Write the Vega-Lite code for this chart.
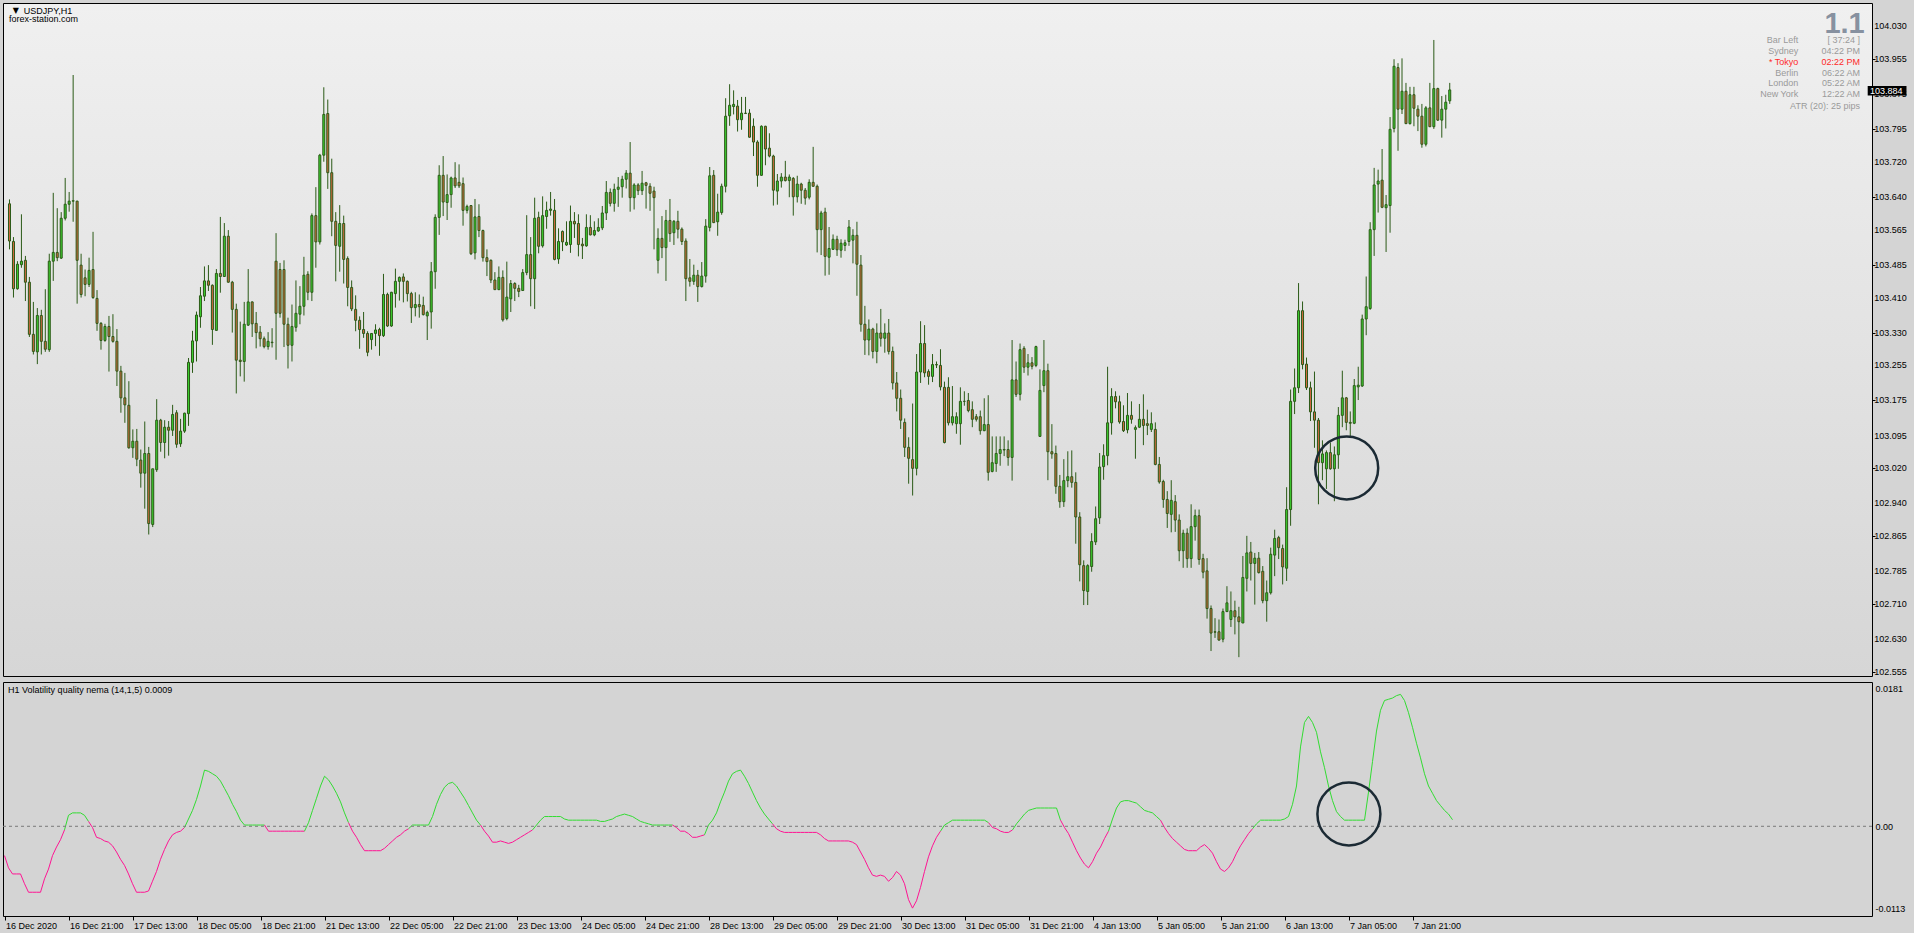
{
"$schema":"https://vega.github.io/schema/vega-lite/v6.json",
"background":"#d4d4d4",
"padding":{"left":2,"top":2,"right":6,"bottom":4},
"autosize":{"type":"pad"},
"spacing":3,
"resolve":{"scale":{"x":"independent","y":"independent"}},
"config":{"font":"Liberation Sans","axis":{"labelFont":"Liberation Sans","labelFontSize":9,"labelColor":"#000000","tickColor":"#000000","domain":false,"grid":false,"title":null,"labelOverlap":false,"labelBound":false,"labelFlush":false}},
"datasets":{"bars":[
{"i":0,"o":103.624,"h":103.634,"l":103.520,"c":103.539,"v":-0.00402},
{"i":1,"o":103.538,"h":103.548,"l":103.410,"c":103.430,"v":-0.0057},
{"i":2,"o":103.430,"h":103.493,"l":103.428,"c":103.486,"v":-0.00654},
{"i":3,"o":103.485,"h":103.600,"l":103.478,"c":103.493,"v":-0.00654},
{"i":4,"o":103.495,"h":103.505,"l":103.402,"c":103.445,"v":-0.00654},
{"i":5,"o":103.445,"h":103.457,"l":103.320,"c":103.326,"v":-0.00788},
{"i":6,"o":103.326,"h":103.400,"l":103.280,"c":103.287,"v":-0.00905},
{"i":7,"o":103.286,"h":103.386,"l":103.258,"c":103.369,"v":-0.00905},
{"i":8,"o":103.369,"h":103.382,"l":103.280,"c":103.310,"v":-0.00905},
{"i":9,"o":103.310,"h":103.429,"l":103.286,"c":103.292,"v":-0.00905},
{"i":10,"o":103.291,"h":103.510,"l":103.286,"c":103.493,"v":-0.00721},
{"i":11,"o":103.493,"h":103.649,"l":103.448,"c":103.513,"v":-0.00587},
{"i":12,"o":103.513,"h":103.614,"l":103.493,"c":103.501,"v":-0.00402},
{"i":13,"o":103.500,"h":103.605,"l":103.498,"c":103.591,"v":-0.00285},
{"i":14,"o":103.591,"h":103.683,"l":103.586,"c":103.623,"v":-0.00184},
{"i":15,"o":103.623,"h":103.651,"l":103.606,"c":103.630,"v":-0.0005},
{"i":16,"o":103.630,"h":103.918,"l":103.583,"c":103.631,"v":0.00151},
{"i":17,"o":103.630,"h":103.631,"l":103.396,"c":103.495,"v":0.00184},
{"i":18,"o":103.484,"h":103.510,"l":103.410,"c":103.417,"v":0.00184},
{"i":19,"o":103.455,"h":103.474,"l":103.413,"c":103.440,"v":0.00184},
{"i":20,"o":103.440,"h":103.501,"l":103.434,"c":103.472,"v":0.00151},
{"i":21,"o":103.474,"h":103.560,"l":103.407,"c":103.410,"v":0.00067},
{"i":22,"o":103.408,"h":103.427,"l":103.334,"c":103.351,"v":-0.00017},
{"i":23,"o":103.351,"h":103.354,"l":103.291,"c":103.312,"v":-0.00151},
{"i":24,"o":103.312,"h":103.350,"l":103.309,"c":103.344,"v":-0.00168},
{"i":25,"o":103.344,"h":103.368,"l":103.241,"c":103.321,"v":-0.00201},
{"i":26,"o":103.321,"h":103.372,"l":103.307,"c":103.310,"v":-0.00218},
{"i":27,"o":103.310,"h":103.338,"l":103.208,"c":103.242,"v":-0.00268},
{"i":28,"o":103.242,"h":103.254,"l":103.147,"c":103.181,"v":-0.00352},
{"i":29,"o":103.181,"h":103.238,"l":103.124,"c":103.165,"v":-0.00453},
{"i":30,"o":103.164,"h":103.219,"l":103.065,"c":103.067,"v":-0.00536},
{"i":31,"o":103.067,"h":103.109,"l":103.044,"c":103.082,"v":-0.00654},
{"i":32,"o":103.082,"h":103.110,"l":103.025,"c":103.041,"v":-0.00788},
{"i":33,"o":103.039,"h":103.063,"l":102.976,"c":103.009,"v":-0.00905},
{"i":34,"o":103.009,"h":103.127,"l":102.928,"c":103.054,"v":-0.00905},
{"i":35,"o":103.054,"h":103.069,"l":102.869,"c":102.894,"v":-0.00905},
{"i":36,"o":102.892,"h":103.019,"l":102.886,"c":103.019,"v":-0.00888},
{"i":37,"o":103.017,"h":103.178,"l":103.012,"c":103.130,"v":-0.00754},
{"i":38,"o":103.130,"h":103.133,"l":103.058,"c":103.079,"v":-0.0062},
{"i":39,"o":103.079,"h":103.130,"l":103.043,"c":103.114,"v":-0.00453},
{"i":40,"o":103.114,"h":103.128,"l":103.049,"c":103.107,"v":-0.00318},
{"i":41,"o":103.107,"h":103.165,"l":103.094,"c":103.143,"v":-0.00201},
{"i":42,"o":103.147,"h":103.153,"l":103.067,"c":103.075,"v":-0.00117},
{"i":43,"o":103.076,"h":103.133,"l":103.069,"c":103.105,"v":-0.00084},
{"i":44,"o":103.105,"h":103.147,"l":103.101,"c":103.146,"v":-0.00067},
{"i":45,"o":103.145,"h":103.272,"l":103.117,"c":103.262,"v":-0.00017},
{"i":46,"o":103.262,"h":103.334,"l":103.238,"c":103.311,"v":0.001},
{"i":47,"o":103.311,"h":103.378,"l":103.264,"c":103.370,"v":0.00218},
{"i":48,"o":103.366,"h":103.434,"l":103.341,"c":103.414,"v":0.00369},
{"i":49,"o":103.413,"h":103.481,"l":103.402,"c":103.448,"v":0.00553},
{"i":50,"o":103.448,"h":103.484,"l":103.425,"c":103.438,"v":0.00771},
{"i":51,"o":103.438,"h":103.440,"l":103.302,"c":103.337,"v":0.00754},
{"i":52,"o":103.335,"h":103.475,"l":103.334,"c":103.465,"v":0.00721},
{"i":53,"o":103.465,"h":103.594,"l":103.421,"c":103.458,"v":0.00687},
{"i":54,"o":103.458,"h":103.580,"l":103.457,"c":103.550,"v":0.0062},
{"i":55,"o":103.550,"h":103.564,"l":103.444,"c":103.445,"v":0.0052},
{"i":56,"o":103.445,"h":103.448,"l":103.330,"c":103.383,"v":0.00419},
{"i":57,"o":103.383,"h":103.396,"l":103.191,"c":103.267,"v":0.00302},
{"i":58,"o":103.267,"h":103.355,"l":103.230,"c":103.264,"v":0.00201},
{"i":59,"o":103.264,"h":103.400,"l":103.218,"c":103.349,"v":0.00084},
{"i":60,"o":103.347,"h":103.475,"l":103.345,"c":103.400,"v":0.00017},
{"i":61,"o":103.400,"h":103.401,"l":103.320,"c":103.350,"v":0.00017},
{"i":62,"o":103.351,"h":103.377,"l":103.294,"c":103.330,"v":0.00017},
{"i":63,"o":103.331,"h":103.345,"l":103.298,"c":103.316,"v":0.00017},
{"i":64,"o":103.316,"h":103.321,"l":103.294,"c":103.298,"v":0.00017},
{"i":65,"o":103.298,"h":103.331,"l":103.291,"c":103.310,"v":0.00017},
{"i":66,"o":103.308,"h":103.340,"l":103.296,"c":103.307,"v":-0.00067},
{"i":67,"o":103.493,"h":103.557,"l":103.268,"c":103.374,"v":-0.00067},
{"i":68,"o":103.474,"h":103.489,"l":103.364,"c":103.374,"v":-0.00067},
{"i":69,"o":103.474,"h":103.495,"l":103.297,"c":103.349,"v":-0.00067},
{"i":70,"o":103.349,"h":103.364,"l":103.248,"c":103.301,"v":-0.00067},
{"i":71,"o":103.301,"h":103.394,"l":103.264,"c":103.344,"v":-0.00067},
{"i":72,"o":103.342,"h":103.449,"l":103.332,"c":103.374,"v":-0.00067},
{"i":73,"o":103.372,"h":103.436,"l":103.349,"c":103.390,"v":-0.00067},
{"i":74,"o":103.390,"h":103.503,"l":103.369,"c":103.461,"v":-0.00067},
{"i":75,"o":103.463,"h":103.470,"l":103.404,"c":103.422,"v":-0.00067},
{"i":76,"o":103.422,"h":103.602,"l":103.402,"c":103.597,"v":0.0005},
{"i":77,"o":103.597,"h":103.662,"l":103.478,"c":103.537,"v":0.00218},
{"i":78,"o":103.537,"h":103.738,"l":103.531,"c":103.735,"v":0.00385},
{"i":79,"o":103.735,"h":103.890,"l":103.720,"c":103.828,"v":0.00553},
{"i":80,"o":103.830,"h":103.862,"l":103.658,"c":103.695,"v":0.00687},
{"i":81,"o":103.695,"h":103.727,"l":103.550,"c":103.584,"v":0.00637},
{"i":82,"o":103.584,"h":103.605,"l":103.447,"c":103.529,"v":0.00553},
{"i":83,"o":103.527,"h":103.621,"l":103.469,"c":103.579,"v":0.00453},
{"i":84,"o":103.579,"h":103.597,"l":103.442,"c":103.497,"v":0.00335},
{"i":85,"o":103.499,"h":103.504,"l":103.390,"c":103.433,"v":0.00184},
{"i":86,"o":103.433,"h":103.449,"l":103.379,"c":103.384,"v":0.0005},
{"i":87,"o":103.383,"h":103.415,"l":103.333,"c":103.358,"v":-0.00067},
{"i":88,"o":103.358,"h":103.367,"l":103.293,"c":103.337,"v":-0.00151},
{"i":89,"o":103.337,"h":103.377,"l":103.318,"c":103.328,"v":-0.00251},
{"i":90,"o":103.328,"h":103.333,"l":103.276,"c":103.285,"v":-0.00335},
{"i":91,"o":103.314,"h":103.329,"l":103.291,"c":103.328,"v":-0.00335},
{"i":92,"o":103.328,"h":103.349,"l":103.299,"c":103.336,"v":-0.00335},
{"i":93,"o":103.337,"h":103.341,"l":103.277,"c":103.323,"v":-0.00335},
{"i":94,"o":103.323,"h":103.464,"l":103.320,"c":103.417,"v":-0.00335},
{"i":95,"o":103.417,"h":103.421,"l":103.343,"c":103.345,"v":-0.00302},
{"i":96,"o":103.345,"h":103.423,"l":103.343,"c":103.422,"v":-0.00251},
{"i":97,"o":103.419,"h":103.476,"l":103.387,"c":103.447,"v":-0.00201},
{"i":98,"o":103.447,"h":103.458,"l":103.403,"c":103.456,"v":-0.00151},
{"i":99,"o":103.457,"h":103.465,"l":103.399,"c":103.447,"v":-0.00117},
{"i":100,"o":103.447,"h":103.449,"l":103.401,"c":103.419,"v":-0.00067},
{"i":101,"o":103.419,"h":103.423,"l":103.352,"c":103.387,"v":-0.00034},
{"i":102,"o":103.387,"h":103.422,"l":103.367,"c":103.394,"v":0.00017},
{"i":103,"o":103.394,"h":103.417,"l":103.364,"c":103.389,"v":0.00017},
{"i":104,"o":103.392,"h":103.412,"l":103.369,"c":103.371,"v":0.00017},
{"i":105,"o":103.368,"h":103.380,"l":103.313,"c":103.376,"v":0.00017},
{"i":106,"o":103.377,"h":103.491,"l":103.339,"c":103.469,"v":0.00017},
{"i":107,"o":103.469,"h":103.600,"l":103.430,"c":103.593,"v":0.00134},
{"i":108,"o":103.593,"h":103.712,"l":103.553,"c":103.689,"v":0.00302},
{"i":109,"o":103.689,"h":103.733,"l":103.596,"c":103.628,"v":0.00436},
{"i":110,"o":103.627,"h":103.691,"l":103.587,"c":103.645,"v":0.00536},
{"i":111,"o":103.645,"h":103.686,"l":103.615,"c":103.683,"v":0.00587},
{"i":112,"o":103.683,"h":103.719,"l":103.660,"c":103.665,"v":0.00603},
{"i":113,"o":103.673,"h":103.714,"l":103.660,"c":103.665,"v":0.00553},
{"i":114,"o":103.670,"h":103.684,"l":103.574,"c":103.609,"v":0.00469},
{"i":115,"o":103.609,"h":103.622,"l":103.602,"c":103.618,"v":0.00385},
{"i":116,"o":103.620,"h":103.621,"l":103.507,"c":103.510,"v":0.00285},
{"i":117,"o":103.512,"h":103.635,"l":103.497,"c":103.594,"v":0.00184},
{"i":118,"o":103.595,"h":103.623,"l":103.548,"c":103.563,"v":0.00084},
{"i":119,"o":103.563,"h":103.565,"l":103.492,"c":103.501,"v":0.00017},
{"i":120,"o":103.501,"h":103.520,"l":103.459,"c":103.492,"v":-0.00067},
{"i":121,"o":103.495,"h":103.497,"l":103.443,"c":103.450,"v":-0.00134},
{"i":122,"o":103.450,"h":103.468,"l":103.428,"c":103.428,"v":-0.00218},
{"i":123,"o":103.428,"h":103.481,"l":103.427,"c":103.456,"v":-0.00218},
{"i":124,"o":103.456,"h":103.472,"l":103.355,"c":103.359,"v":-0.00201},
{"i":125,"o":103.362,"h":103.492,"l":103.358,"c":103.411,"v":-0.00218},
{"i":126,"o":103.407,"h":103.450,"l":103.377,"c":103.442,"v":-0.00235},
{"i":127,"o":103.442,"h":103.445,"l":103.402,"c":103.431,"v":-0.00218},
{"i":128,"o":103.431,"h":103.439,"l":103.411,"c":103.424,"v":-0.00184},
{"i":129,"o":103.426,"h":103.475,"l":103.425,"c":103.467,"v":-0.00151},
{"i":130,"o":103.467,"h":103.598,"l":103.461,"c":103.508,"v":-0.00117},
{"i":131,"o":103.508,"h":103.548,"l":103.390,"c":103.453,"v":-0.00084},
{"i":132,"o":103.453,"h":103.638,"l":103.384,"c":103.591,"v":-0.0005},
{"i":133,"o":103.593,"h":103.606,"l":103.511,"c":103.527,"v":0.00017},
{"i":134,"o":103.528,"h":103.641,"l":103.524,"c":103.597,"v":0.00084},
{"i":135,"o":103.595,"h":103.629,"l":103.567,"c":103.609,"v":0.00134},
{"i":136,"o":103.609,"h":103.651,"l":103.597,"c":103.612,"v":0.00134},
{"i":137,"o":103.609,"h":103.635,"l":103.495,"c":103.497,"v":0.00134},
{"i":138,"o":103.498,"h":103.568,"l":103.487,"c":103.538,"v":0.00134},
{"i":139,"o":103.561,"h":103.563,"l":103.516,"c":103.537,"v":0.00134},
{"i":140,"o":103.530,"h":103.584,"l":103.528,"c":103.536,"v":0.001},
{"i":141,"o":103.531,"h":103.620,"l":103.512,"c":103.584,"v":0.00084},
{"i":142,"o":103.584,"h":103.605,"l":103.546,"c":103.578,"v":0.00084},
{"i":143,"o":103.579,"h":103.600,"l":103.504,"c":103.531,"v":0.00084},
{"i":144,"o":103.532,"h":103.546,"l":103.498,"c":103.528,"v":0.00084},
{"i":145,"o":103.528,"h":103.600,"l":103.526,"c":103.570,"v":0.00084},
{"i":146,"o":103.570,"h":103.598,"l":103.552,"c":103.553,"v":0.00084},
{"i":147,"o":103.553,"h":103.584,"l":103.550,"c":103.563,"v":0.00084},
{"i":148,"o":103.562,"h":103.591,"l":103.560,"c":103.570,"v":0.00084},
{"i":149,"o":103.569,"h":103.619,"l":103.564,"c":103.603,"v":0.00067},
{"i":150,"o":103.603,"h":103.676,"l":103.587,"c":103.650,"v":0.00067},
{"i":151,"o":103.650,"h":103.659,"l":103.618,"c":103.625,"v":0.00084},
{"i":152,"o":103.625,"h":103.670,"l":103.606,"c":103.657,"v":0.001},
{"i":153,"o":103.657,"h":103.685,"l":103.617,"c":103.662,"v":0.00134},
{"i":154,"o":103.663,"h":103.688,"l":103.638,"c":103.680,"v":0.00151},
{"i":155,"o":103.680,"h":103.701,"l":103.659,"c":103.694,"v":0.00168},
{"i":156,"o":103.694,"h":103.765,"l":103.606,"c":103.638,"v":0.00151},
{"i":157,"o":103.638,"h":103.671,"l":103.611,"c":103.667,"v":0.00134},
{"i":158,"o":103.667,"h":103.671,"l":103.644,"c":103.654,"v":0.001},
{"i":159,"o":103.654,"h":103.699,"l":103.644,"c":103.671,"v":0.00067},
{"i":160,"o":103.672,"h":103.674,"l":103.613,"c":103.666,"v":0.0005},
{"i":161,"o":103.664,"h":103.671,"l":103.608,"c":103.648,"v":0.00034},
{"i":162,"o":103.653,"h":103.663,"l":103.520,"c":103.638,"v":0.00017},
{"i":163,"o":103.495,"h":103.568,"l":103.465,"c":103.545,"v":0.00017},
{"i":164,"o":103.545,"h":103.596,"l":103.500,"c":103.524,"v":0.00017},
{"i":165,"o":103.524,"h":103.610,"l":103.448,"c":103.586,"v":0.00017},
{"i":166,"o":103.586,"h":103.635,"l":103.537,"c":103.556,"v":0.00017},
{"i":167,"o":103.558,"h":103.587,"l":103.530,"c":103.584,"v":0.00017},
{"i":168,"o":103.584,"h":103.608,"l":103.545,"c":103.566,"v":-0.00017},
{"i":169,"o":103.566,"h":103.570,"l":103.530,"c":103.538,"v":-0.00067},
{"i":170,"o":103.539,"h":103.545,"l":103.402,"c":103.453,"v":-0.00067},
{"i":171,"o":103.455,"h":103.498,"l":103.435,"c":103.447,"v":-0.001},
{"i":172,"o":103.447,"h":103.485,"l":103.439,"c":103.461,"v":-0.00151},
{"i":173,"o":103.461,"h":103.473,"l":103.400,"c":103.435,"v":-0.00151},
{"i":174,"o":103.435,"h":103.491,"l":103.433,"c":103.459,"v":-0.00134},
{"i":175,"o":103.459,"h":103.589,"l":103.444,"c":103.573,"v":-0.00117},
{"i":176,"o":103.570,"h":103.708,"l":103.561,"c":103.688,"v":0.00017},
{"i":177,"o":103.689,"h":103.701,"l":103.580,"c":103.581,"v":0.00084},
{"i":178,"o":103.583,"h":103.647,"l":103.551,"c":103.605,"v":0.00184},
{"i":179,"o":103.604,"h":103.670,"l":103.599,"c":103.664,"v":0.00335},
{"i":180,"o":103.664,"h":103.865,"l":103.650,"c":103.824,"v":0.00469},
{"i":181,"o":103.825,"h":103.897,"l":103.802,"c":103.849,"v":0.0062},
{"i":182,"o":103.846,"h":103.883,"l":103.828,"c":103.851,"v":0.00721},
{"i":183,"o":103.847,"h":103.861,"l":103.789,"c":103.816,"v":0.00754},
{"i":184,"o":103.816,"h":103.868,"l":103.793,"c":103.831,"v":0.00771},
{"i":185,"o":103.831,"h":103.868,"l":103.829,"c":103.830,"v":0.00687},
{"i":186,"o":103.831,"h":103.840,"l":103.775,"c":103.776,"v":0.00587},
{"i":187,"o":103.801,"h":103.819,"l":103.733,"c":103.765,"v":0.00469},
{"i":188,"o":103.765,"h":103.769,"l":103.663,"c":103.689,"v":0.00352},
{"i":189,"o":103.689,"h":103.803,"l":103.688,"c":103.801,"v":0.00251},
{"i":190,"o":103.801,"h":103.802,"l":103.712,"c":103.749,"v":0.00168},
{"i":191,"o":103.751,"h":103.785,"l":103.730,"c":103.733,"v":0.001},
{"i":192,"o":103.733,"h":103.736,"l":103.620,"c":103.655,"v":0.00034},
{"i":193,"o":103.653,"h":103.692,"l":103.622,"c":103.676,"v":-0.00034},
{"i":194,"o":103.676,"h":103.694,"l":103.661,"c":103.685,"v":-0.00067},
{"i":195,"o":103.685,"h":103.722,"l":103.675,"c":103.677,"v":-0.00084},
{"i":196,"o":103.677,"h":103.691,"l":103.639,"c":103.685,"v":-0.00084},
{"i":197,"o":103.682,"h":103.685,"l":103.597,"c":103.640,"v":-0.00084},
{"i":198,"o":103.640,"h":103.688,"l":103.627,"c":103.669,"v":-0.00084},
{"i":199,"o":103.669,"h":103.672,"l":103.624,"c":103.655,"v":-0.00084},
{"i":200,"o":103.655,"h":103.660,"l":103.622,"c":103.637,"v":-0.00084},
{"i":201,"o":103.639,"h":103.680,"l":103.634,"c":103.673,"v":-0.00084},
{"i":202,"o":103.673,"h":103.754,"l":103.663,"c":103.664,"v":-0.00084},
{"i":203,"o":103.664,"h":103.668,"l":103.513,"c":103.565,"v":-0.00084},
{"i":204,"o":103.565,"h":103.608,"l":103.507,"c":103.603,"v":-0.00117},
{"i":205,"o":103.605,"h":103.615,"l":103.460,"c":103.504,"v":-0.00168},
{"i":206,"o":103.502,"h":103.571,"l":103.462,"c":103.522,"v":-0.00201},
{"i":207,"o":103.520,"h":103.554,"l":103.519,"c":103.543,"v":-0.00201},
{"i":208,"o":103.543,"h":103.551,"l":103.505,"c":103.519,"v":-0.00201},
{"i":209,"o":103.518,"h":103.543,"l":103.501,"c":103.534,"v":-0.00201},
{"i":210,"o":103.529,"h":103.542,"l":103.516,"c":103.535,"v":-0.00201},
{"i":211,"o":103.538,"h":103.587,"l":103.528,"c":103.571,"v":-0.00201},
{"i":212,"o":103.541,"h":103.566,"l":103.488,"c":103.552,"v":-0.00218},
{"i":213,"o":103.552,"h":103.583,"l":103.414,"c":103.486,"v":-0.00251},
{"i":214,"o":103.484,"h":103.507,"l":103.332,"c":103.349,"v":-0.00352},
{"i":215,"o":103.349,"h":103.391,"l":103.279,"c":103.313,"v":-0.00453},
{"i":216,"o":103.313,"h":103.360,"l":103.278,"c":103.338,"v":-0.0057},
{"i":217,"o":103.338,"h":103.341,"l":103.271,"c":103.287,"v":-0.0067},
{"i":218,"o":103.287,"h":103.351,"l":103.260,"c":103.329,"v":-0.00687},
{"i":219,"o":103.329,"h":103.384,"l":103.298,"c":103.317,"v":-0.0067},
{"i":220,"o":103.317,"h":103.351,"l":103.284,"c":103.329,"v":-0.00687},
{"i":221,"o":103.329,"h":103.361,"l":103.280,"c":103.287,"v":-0.00754},
{"i":222,"o":103.287,"h":103.298,"l":103.200,"c":103.215,"v":-0.00704},
{"i":223,"o":103.215,"h":103.240,"l":103.150,"c":103.180,"v":-0.0062},
{"i":224,"o":103.180,"h":103.200,"l":103.110,"c":103.130,"v":-0.0067},
{"i":225,"o":103.125,"h":103.134,"l":103.046,"c":103.068,"v":-0.00788},
{"i":226,"o":103.068,"h":103.091,"l":102.985,"c":103.043,"v":-0.01006},
{"i":227,"o":103.040,"h":103.168,"l":102.958,"c":103.020,"v":-0.01123},
{"i":228,"o":103.020,"h":103.281,"l":103.004,"c":103.240,"v":-0.01022},
{"i":229,"o":103.240,"h":103.356,"l":103.215,"c":103.305,"v":-0.00838},
{"i":230,"o":103.305,"h":103.347,"l":103.228,"c":103.238,"v":-0.0062},
{"i":231,"o":103.241,"h":103.246,"l":103.211,"c":103.230,"v":-0.00419},
{"i":232,"o":103.230,"h":103.281,"l":103.217,"c":103.257,"v":-0.00268},
{"i":233,"o":103.257,"h":103.264,"l":103.249,"c":103.256,"v":-0.00151},
{"i":234,"o":103.255,"h":103.292,"l":103.198,"c":103.206,"v":-0.00067},
{"i":235,"o":103.205,"h":103.218,"l":103.077,"c":103.079,"v":0.00017},
{"i":236,"o":103.205,"h":103.228,"l":103.118,"c":103.124,"v":0.0005},
{"i":237,"o":103.124,"h":103.208,"l":103.118,"c":103.138,"v":0.00084},
{"i":238,"o":103.122,"h":103.148,"l":103.099,"c":103.138,"v":0.00084},
{"i":239,"o":103.122,"h":103.205,"l":103.074,"c":103.173,"v":0.00084},
{"i":240,"o":103.173,"h":103.196,"l":103.163,"c":103.173,"v":0.00084},
{"i":241,"o":103.175,"h":103.192,"l":103.148,"c":103.152,"v":0.00084},
{"i":242,"o":103.154,"h":103.173,"l":103.114,"c":103.132,"v":0.00084},
{"i":243,"o":103.138,"h":103.144,"l":103.127,"c":103.132,"v":0.00084},
{"i":244,"o":103.138,"h":103.152,"l":103.097,"c":103.106,"v":0.00084},
{"i":245,"o":103.106,"h":103.180,"l":103.105,"c":103.120,"v":0.00084},
{"i":246,"o":103.120,"h":103.187,"l":102.992,"c":103.011,"v":0.0005},
{"i":247,"o":103.013,"h":103.093,"l":103.011,"c":103.033,"v":-0.00017},
{"i":248,"o":103.031,"h":103.093,"l":103.012,"c":103.054,"v":-0.00034},
{"i":249,"o":103.054,"h":103.093,"l":103.026,"c":103.063,"v":-0.00067},
{"i":250,"o":103.063,"h":103.093,"l":103.048,"c":103.062,"v":-0.00084},
{"i":251,"o":103.063,"h":103.084,"l":103.026,"c":103.045,"v":-0.00084},
{"i":252,"o":103.045,"h":103.313,"l":102.992,"c":103.222,"v":-0.0005},
{"i":253,"o":103.222,"h":103.264,"l":103.183,"c":103.189,"v":0.00034},
{"i":254,"o":103.189,"h":103.305,"l":103.175,"c":103.291,"v":0.001},
{"i":255,"o":103.294,"h":103.299,"l":103.238,"c":103.251,"v":0.00168},
{"i":256,"o":103.251,"h":103.281,"l":103.232,"c":103.261,"v":0.00218},
{"i":257,"o":103.261,"h":103.274,"l":103.246,"c":103.253,"v":0.00235},
{"i":258,"o":103.255,"h":103.300,"l":103.251,"c":103.298,"v":0.00251},
{"i":259,"o":103.093,"h":103.246,"l":103.092,"c":103.198,"v":0.00251},
{"i":260,"o":103.209,"h":103.313,"l":103.194,"c":103.243,"v":0.00251},
{"i":261,"o":103.243,"h":103.259,"l":102.993,"c":103.058,"v":0.00251},
{"i":262,"o":103.058,"h":103.121,"l":103.042,"c":103.053,"v":0.00251},
{"i":263,"o":103.054,"h":103.072,"l":102.962,"c":102.979,"v":0.00251},
{"i":264,"o":102.979,"h":103.005,"l":102.930,"c":102.944,"v":0.00084},
{"i":265,"o":102.944,"h":103.041,"l":102.932,"c":102.992,"v":-0.00017},
{"i":266,"o":102.992,"h":103.059,"l":102.977,"c":103.001,"v":-0.001},
{"i":267,"o":103.001,"h":103.061,"l":102.976,"c":102.988,"v":-0.00218},
{"i":268,"o":102.988,"h":103.011,"l":102.848,"c":102.909,"v":-0.00335},
{"i":269,"o":102.909,"h":102.920,"l":102.762,"c":102.800,"v":-0.00436},
{"i":270,"o":102.798,"h":102.810,"l":102.708,"c":102.741,"v":-0.0052},
{"i":271,"o":102.739,"h":102.801,"l":102.708,"c":102.798,"v":-0.0057},
{"i":272,"o":102.796,"h":102.872,"l":102.784,"c":102.853,"v":-0.00486},
{"i":273,"o":102.852,"h":102.933,"l":102.845,"c":102.905,"v":-0.00369},
{"i":274,"o":102.907,"h":103.055,"l":102.893,"c":103.023,"v":-0.00285},
{"i":275,"o":103.024,"h":103.075,"l":102.994,"c":103.049,"v":-0.00168},
{"i":276,"o":103.049,"h":103.252,"l":103.027,"c":103.124,"v":-0.00067},
{"i":277,"o":103.124,"h":103.203,"l":103.097,"c":103.184,"v":0.001},
{"i":278,"o":103.184,"h":103.196,"l":103.157,"c":103.172,"v":0.00251},
{"i":279,"o":103.172,"h":103.186,"l":103.122,"c":103.126,"v":0.00335},
{"i":280,"o":103.127,"h":103.164,"l":103.103,"c":103.106,"v":0.00352},
{"i":281,"o":103.108,"h":103.192,"l":103.100,"c":103.141,"v":0.00352},
{"i":282,"o":103.141,"h":103.173,"l":103.122,"c":103.132,"v":0.00335},
{"i":283,"o":103.109,"h":103.118,"l":103.042,"c":103.113,"v":0.00318},
{"i":284,"o":103.114,"h":103.167,"l":103.112,"c":103.132,"v":0.00268},
{"i":285,"o":103.132,"h":103.189,"l":103.073,"c":103.118,"v":0.00218},
{"i":286,"o":103.122,"h":103.154,"l":103.096,"c":103.118,"v":0.00201},
{"i":287,"o":103.109,"h":103.148,"l":103.103,"c":103.122,"v":0.00184},
{"i":288,"o":103.109,"h":103.125,"l":103.027,"c":103.029,"v":0.00134},
{"i":289,"o":103.029,"h":103.046,"l":102.985,"c":102.989,"v":0.00084},
{"i":290,"o":102.990,"h":102.994,"l":102.930,"c":102.949,"v":-0.00017},
{"i":291,"o":102.949,"h":102.968,"l":102.884,"c":102.917,"v":-0.001},
{"i":292,"o":102.915,"h":102.993,"l":102.874,"c":102.947,"v":-0.00168},
{"i":293,"o":102.944,"h":102.959,"l":102.875,"c":102.902,"v":-0.00218},
{"i":294,"o":102.902,"h":102.915,"l":102.808,"c":102.832,"v":-0.00268},
{"i":295,"o":102.832,"h":102.880,"l":102.793,"c":102.872,"v":-0.00318},
{"i":296,"o":102.872,"h":102.883,"l":102.793,"c":102.814,"v":-0.00335},
{"i":297,"o":102.814,"h":102.938,"l":102.793,"c":102.887,"v":-0.00335},
{"i":298,"o":102.887,"h":102.926,"l":102.855,"c":102.912,"v":-0.00335},
{"i":299,"o":102.912,"h":102.926,"l":102.800,"c":102.812,"v":-0.00285},
{"i":300,"o":102.814,"h":102.825,"l":102.769,"c":102.783,"v":-0.00251},
{"i":301,"o":102.786,"h":102.815,"l":102.677,"c":102.700,"v":-0.00302},
{"i":302,"o":102.700,"h":102.707,"l":102.603,"c":102.644,"v":-0.00369},
{"i":303,"o":102.647,"h":102.678,"l":102.633,"c":102.646,"v":-0.00486},
{"i":304,"o":102.647,"h":102.675,"l":102.627,"c":102.628,"v":-0.00587},
{"i":305,"o":102.630,"h":102.700,"l":102.623,"c":102.693,"v":-0.0062},
{"i":306,"o":102.693,"h":102.751,"l":102.692,"c":102.713,"v":-0.0057},
{"i":307,"o":102.675,"h":102.739,"l":102.658,"c":102.695,"v":-0.00486},
{"i":308,"o":102.695,"h":102.718,"l":102.641,"c":102.681,"v":-0.00369},
{"i":309,"o":102.681,"h":102.704,"l":102.589,"c":102.670,"v":-0.00268},
{"i":310,"o":102.667,"h":102.820,"l":102.667,"c":102.771,"v":-0.00184},
{"i":311,"o":102.769,"h":102.866,"l":102.739,"c":102.827,"v":-0.001},
{"i":312,"o":102.829,"h":102.852,"l":102.764,"c":102.803,"v":-0.00034},
{"i":313,"o":102.803,"h":102.827,"l":102.709,"c":102.815,"v":0.00034},
{"i":314,"o":102.815,"h":102.829,"l":102.780,"c":102.782,"v":0.00084},
{"i":315,"o":102.785,"h":102.797,"l":102.712,"c":102.718,"v":0.00084},
{"i":316,"o":102.718,"h":102.764,"l":102.670,"c":102.736,"v":0.00084},
{"i":317,"o":102.736,"h":102.839,"l":102.732,"c":102.824,"v":0.00084},
{"i":318,"o":102.822,"h":102.880,"l":102.774,"c":102.860,"v":0.00084},
{"i":319,"o":102.862,"h":102.866,"l":102.813,"c":102.839,"v":0.00084},
{"i":320,"o":102.837,"h":102.846,"l":102.755,"c":102.795,"v":0.001},
{"i":321,"o":102.792,"h":102.977,"l":102.763,"c":102.926,"v":0.00134},
{"i":322,"o":102.926,"h":103.200,"l":102.889,"c":103.173,"v":0.00302},
{"i":323,"o":103.173,"h":103.248,"l":103.144,"c":103.204,"v":0.00553},
{"i":324,"o":103.204,"h":103.443,"l":103.192,"c":103.380,"v":0.01089},
{"i":325,"o":103.380,"h":103.401,"l":103.246,"c":103.257,"v":0.01425},
{"i":326,"o":103.258,"h":103.273,"l":103.199,"c":103.204,"v":0.01508},
{"i":327,"o":103.204,"h":103.218,"l":103.128,"c":103.149,"v":0.01425},
{"i":328,"o":103.149,"h":103.241,"l":103.067,"c":103.130,"v":0.0129},
{"i":329,"o":103.130,"h":103.135,"l":102.938,"c":103.033,"v":0.01022},
{"i":330,"o":103.033,"h":103.084,"l":102.993,"c":103.053,"v":0.00804},
{"i":331,"o":103.019,"h":103.061,"l":102.973,"c":103.056,"v":0.00553},
{"i":332,"o":103.056,"h":103.079,"l":103.017,"c":103.019,"v":0.00352},
{"i":333,"o":103.019,"h":103.070,"l":102.945,"c":103.051,"v":0.00201},
{"i":334,"o":103.051,"h":103.160,"l":103.019,"c":103.141,"v":0.00134},
{"i":335,"o":103.141,"h":103.243,"l":103.114,"c":103.181,"v":0.00084},
{"i":336,"o":103.181,"h":103.183,"l":103.107,"c":103.125,"v":0.00084},
{"i":337,"o":103.125,"h":103.150,"l":103.093,"c":103.123,"v":0.00084},
{"i":338,"o":103.123,"h":103.224,"l":103.121,"c":103.209,"v":0.00084},
{"i":339,"o":103.206,"h":103.252,"l":103.176,"c":103.210,"v":0.00084},
{"i":340,"o":103.208,"h":103.371,"l":103.206,"c":103.361,"v":0.00084},
{"i":341,"o":103.361,"h":103.458,"l":103.324,"c":103.389,"v":0.00469},
{"i":342,"o":103.385,"h":103.582,"l":103.382,"c":103.565,"v":0.00888},
{"i":343,"o":103.565,"h":103.706,"l":103.505,"c":103.667,"v":0.01307},
{"i":344,"o":103.669,"h":103.702,"l":103.604,"c":103.676,"v":0.01592},
{"i":345,"o":103.678,"h":103.749,"l":103.614,"c":103.616,"v":0.01726},
{"i":346,"o":103.615,"h":103.644,"l":103.514,"c":103.622,"v":0.01743},
{"i":347,"o":103.620,"h":103.822,"l":103.558,"c":103.794,"v":0.0176},
{"i":348,"o":103.796,"h":103.954,"l":103.787,"c":103.938,"v":0.01793},
{"i":349,"o":103.935,"h":103.945,"l":103.745,"c":103.840,"v":0.0181},
{"i":350,"o":103.840,"h":103.956,"l":103.829,"c":103.881,"v":0.01726},
{"i":351,"o":103.881,"h":103.900,"l":103.806,"c":103.807,"v":0.01559},
{"i":352,"o":103.807,"h":103.891,"l":103.805,"c":103.873,"v":0.01358},
{"i":353,"o":103.873,"h":103.891,"l":103.801,"c":103.842,"v":0.0114},
{"i":354,"o":103.840,"h":103.849,"l":103.790,"c":103.824,"v":0.00939},
{"i":355,"o":103.824,"h":103.852,"l":103.752,"c":103.760,"v":0.00721},
{"i":356,"o":103.760,"h":103.847,"l":103.755,"c":103.843,"v":0.00553},
{"i":357,"o":103.843,"h":103.900,"l":103.799,"c":103.800,"v":0.00453},
{"i":358,"o":103.800,"h":103.998,"l":103.795,"c":103.887,"v":0.00352},
{"i":359,"o":103.887,"h":103.889,"l":103.813,"c":103.815,"v":0.00285},
{"i":360,"o":103.815,"h":103.870,"l":103.775,"c":103.840,"v":0.00218},
{"i":361,"o":103.840,"h":103.873,"l":103.796,"c":103.856,"v":0.00168},
{"i":362,"o":103.859,"h":103.900,"l":103.852,"c":103.884,"v":0.0009}
],
"pricelabels":[{"p":104.03},{"p":103.955},{"p":103.875},{"p":103.795},{"p":103.72},{"p":103.64},{"p":103.565},{"p":103.485},{"p":103.41},{"p":103.33},{"p":103.255},{"p":103.175},{"p":103.095},{"p":103.02},{"p":102.94},{"p":102.865},{"p":102.785},{"p":102.71},{"p":102.63},{"p":102.555}]},
"vconcat":[
{
"width":1869,"height":673,
"view":{"stroke":"#000000","strokeWidth":1,"fill":{"gradient":"linear","x1":0,"y1":0,"x2":0,"y2":1,"stops":[{"offset":0,"color":"#f0f0f0"},{"offset":1,"color":"#d6d6d6"}]}},
"layer":[
{"data":{"name":"bars"},"mark":{"type":"rule","color":"#2b5a17","strokeWidth":1},
 "encoding":{"x":{"field":"i","type":"quantitative","scale":{"domain":[-0.375,466.875],"nice":false,"zero":false},"axis":null},
 "y":{"field":"l","type":"quantitative","scale":{"domain":[102.546,104.0824],"nice":false,"zero":false},
   "axis":{"orient":"right","values":[104.03,103.955,103.875,103.795,103.72,103.64,103.565,103.485,103.41,103.33,103.255,103.175,103.095,103.02,102.94,102.865,102.785,102.71,102.63,102.555],"labels":false,"tickSize":3}},
 "y2":{"field":"h"}}},
{"data":{"name":"bars"},"mark":{"type":"bar","size":2,"stroke":"#2b5a17","strokeWidth":1},
 "encoding":{"x":{"field":"i","type":"quantitative"},"y":{"field":"o","type":"quantitative"},"y2":{"field":"c"},
 "color":{"condition":{"test":"datum.c >= datum.o","value":"#3ccf2f"},"value":"#d0693f"}}},
{"data":{"name":"pricelabels"},"mark":{"type":"text","fontSize":9,"align":"left","baseline":"middle","color":"#000000"},
 "encoding":{"x":{"datum":468.7},"y":{"field":"p","type":"quantitative"},"text":{"field":"p","type":"quantitative","format":".3f"}}},
{"data":{"values":[{}]},"mark":{"type":"point","shape":"circle","size":3969,"filled":false,"stroke":"#1b2a34","strokeWidth":2.5,"opacity":1},
 "encoding":{"x":{"datum":336.1},"y":{"datum":103.021}}},
{"data":{"values":[{}]},"mark":{"type":"text","text":"▼","font":"DejaVu Sans","fontSize":8,"align":"center","baseline":"middle","color":"#000000"},
 "encoding":{"x":{"datum":1.6},"y":{"datum":104.064}}},
{"data":{"values":[{}]},"mark":{"type":"text","text":"USDJPY,H1","fontSize":9,"align":"left","baseline":"middle","color":"#000000"},
 "encoding":{"x":{"datum":3.6},"y":{"datum":104.064}}},
{"data":{"values":[{}]},"mark":{"type":"text","text":"forex-station.com","fontSize":9,"align":"left","baseline":"middle","color":"#000000"},
 "encoding":{"x":{"datum":-0.125},"y":{"datum":104.045}}},
{"data":{"values":[{}]},"mark":{"type":"text","text":"1.1","fontSize":29,"fontWeight":"bold","align":"right","baseline":"alphabetic","color":"#8791a0"},
 "encoding":{"x":{"datum":466.3},"y":{"datum":104.0145}}},
{"data":{"values":[{}]},"mark":{"type":"text","text":"Bar Left","fontSize":9,"align":"right","baseline":"middle","color":"#9a9a9a"},
 "encoding":{"x":{"datum":449.6},"y":{"datum":103.998}}},
{"data":{"values":[{}]},"mark":{"type":"text","text":"Sydney","fontSize":9,"align":"right","baseline":"middle","color":"#9a9a9a"},
 "encoding":{"x":{"datum":449.6},"y":{"datum":103.973}}},
{"data":{"values":[{}]},"mark":{"type":"text","text":"* Tokyo","fontSize":9,"align":"right","baseline":"middle","color":"#ff2a2a"},
 "encoding":{"x":{"datum":449.6},"y":{"datum":103.948}}},
{"data":{"values":[{}]},"mark":{"type":"text","text":"Berlin","fontSize":9,"align":"right","baseline":"middle","color":"#9a9a9a"},
 "encoding":{"x":{"datum":449.6},"y":{"datum":103.923}}},
{"data":{"values":[{}]},"mark":{"type":"text","text":"London","fontSize":9,"align":"right","baseline":"middle","color":"#9a9a9a"},
 "encoding":{"x":{"datum":449.6},"y":{"datum":103.899}}},
{"data":{"values":[{}]},"mark":{"type":"text","text":"New York","fontSize":9,"align":"right","baseline":"middle","color":"#9a9a9a"},
 "encoding":{"x":{"datum":449.6},"y":{"datum":103.875}}},
{"data":{"values":[{}]},"mark":{"type":"text","text":"[ 37:24 ]","fontSize":9,"align":"right","baseline":"middle","color":"#9a9a9a"},
 "encoding":{"x":{"datum":465.1},"y":{"datum":103.998}}},
{"data":{"values":[{}]},"mark":{"type":"text","text":"04:22 PM","fontSize":9,"align":"right","baseline":"middle","color":"#9a9a9a"},
 "encoding":{"x":{"datum":465.1},"y":{"datum":103.973}}},
{"data":{"values":[{}]},"mark":{"type":"text","text":"02:22 PM","fontSize":9,"align":"right","baseline":"middle","color":"#ff2a2a"},
 "encoding":{"x":{"datum":465.1},"y":{"datum":103.948}}},
{"data":{"values":[{}]},"mark":{"type":"text","text":"06:22 AM","fontSize":9,"align":"right","baseline":"middle","color":"#9a9a9a"},
 "encoding":{"x":{"datum":465.1},"y":{"datum":103.923}}},
{"data":{"values":[{}]},"mark":{"type":"text","text":"05:22 AM","fontSize":9,"align":"right","baseline":"middle","color":"#9a9a9a"},
 "encoding":{"x":{"datum":465.1},"y":{"datum":103.899}}},
{"data":{"values":[{}]},"mark":{"type":"text","text":"12:22 AM","fontSize":9,"align":"right","baseline":"middle","color":"#9a9a9a"},
 "encoding":{"x":{"datum":465.1},"y":{"datum":103.875}}},
{"data":{"values":[{}]},"mark":{"type":"text","text":"ATR (20): 25 pips","fontSize":9,"align":"right","baseline":"middle","color":"#9a9a9a"},
 "encoding":{"x":{"datum":465.1},"y":{"datum":103.847}}},
{"data":{"values":[{}]},"mark":{"type":"rect","color":"#000000"},
 "encoding":{"x":{"datum":467.05},"x2":{"datum":476.8},"y":{"datum":103.893},"y2":{"datum":103.871}}},
{"data":{"values":[{}]},"mark":{"type":"text","text":"103.884","fontSize":9,"align":"left","baseline":"middle","color":"#ffffff"},
 "encoding":{"x":{"datum":467.6},"y":{"datum":103.882}}}
]
},
{
"width":1869,"height":234,
"view":{"stroke":"#000000","strokeWidth":1,"fill":"#d4d4d4"},
"layer":[
{"data":{"name":"bars"},
 "transform":[{"window":[{"op":"lead","field":"i","as":"i2"},{"op":"lead","field":"v","as":"v2"}],"sort":[{"field":"i"}]},{"filter":"isValid(datum.i2)"}],
 "mark":{"type":"rule","strokeWidth":1},
 "encoding":{"x":{"field":"i","type":"quantitative","scale":{"domain":[-0.375,466.875],"nice":false,"zero":false},
   "axis":{"orient":"bottom","values":[0,16,32,48,64,80,96,112,128,144,160,176,192,208,224,240,256,272,288,304,320,336,352],
   "labelExpr":"['16 Dec 2020','16 Dec 21:00','17 Dec 13:00','18 Dec 05:00','18 Dec 21:00','21 Dec 13:00','22 Dec 05:00','22 Dec 21:00','23 Dec 13:00','24 Dec 05:00','24 Dec 21:00','28 Dec 13:00','29 Dec 05:00','29 Dec 21:00','30 Dec 13:00','31 Dec 05:00','31 Dec 21:00','4 Jan 13:00','5 Jan 05:00','5 Jan 21:00','6 Jan 13:00','7 Jan 05:00','7 Jan 21:00'][round(datum.value/16)]",
   "labelAlign":"left","labelOffset":1,"tickSize":4,"labelPadding":1,"labelBaseline":"top","labelOverlap":false,"labelBound":false,"labelFlush":false}},
 "x2":{"field":"i2"},
 "y":{"field":"v","type":"quantitative","scale":{"domain":[-0.01231,0.0198],"nice":false,"zero":false},
   "axis":{"orient":"right","values":[0.0181,0,-0.0113],"labelExpr":"datum.value == 0 ? '0.00' : toString(datum.value)","ticks":false,"labelPadding":3,"labelBaseline":"middle","labelOverlap":false,"labelBound":false,"labelFlush":false,
   "labelOffset":{"condition":{"test":"datum.value > 0.01","value":-6},"value":0}}},
 "y2":{"field":"v2"},
 "color":{"condition":{"test":"datum.v2 >= 0","value":"#32dc32"},"value":"#ff1493"}}},
{"data":{"values":[{}]},"mark":{"type":"rule","color":"#7a7a7a","strokeDash":[3,3],"strokeWidth":1},
 "encoding":{"y":{"datum":0}}},
{"data":{"values":[{}]},"mark":{"type":"point","shape":"circle","size":3969,"filled":false,"stroke":"#1b2a34","strokeWidth":2.5,"opacity":1},
 "encoding":{"x":{"datum":336.1},"y":{"datum":0.0017}}},
{"data":{"values":[{}]},"mark":{"type":"text","text":"H1 Volatility quality nema (14,1,5) 0.0009","fontSize":9,"align":"left","baseline":"middle","color":"#000000"},
 "encoding":{"x":{"datum":0.9},"y":{"datum":0.0187}}}
]
}
]
}
